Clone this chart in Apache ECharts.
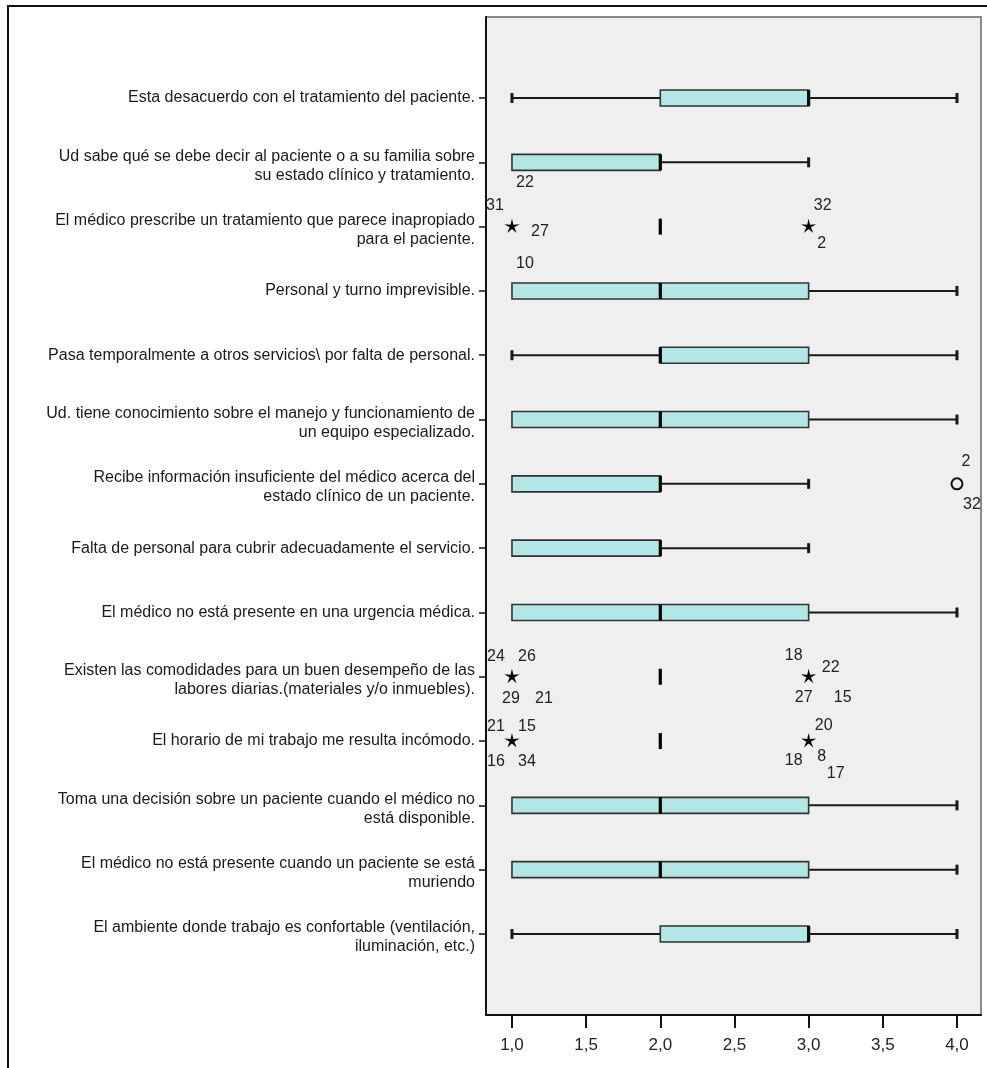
<!DOCTYPE html>
<html>
<head>
<meta charset="utf-8">
<script src="https://cdn.jsdelivr.net/npm/echarts@6/dist/echarts.min.js"></script>
<style>
  html, body { margin: 0; padding: 0; background: #ffffff; }
  #chart { width: 987px; height: 1068px; }
</style>
</head>
<body>
<div id="chart"></div>
<script>
// Items of the questionnaire (one box per item, top to bottom)
const categories = [
  'Esta desacuerdo con el tratamiento del paciente.',
  'Ud sabe qué se debe decir al paciente o a su familia sobre\nsu estado clínico y tratamiento.',
  'El médico prescribe un tratamiento que parece inapropiado\npara el paciente.',
  'Personal y turno imprevisible.',
  'Pasa temporalmente a otros servicios\\ por falta de personal.',
  'Ud. tiene conocimiento sobre el manejo y funcionamiento de\nun equipo especializado.',
  'Recibe información insuficiente del médico acerca del\nestado clínico de un paciente.',
  'Falta de personal para cubrir adecuadamente el servicio.',
  'El médico no está presente en una urgencia médica.',
  'Existen las comodidades para un buen desempeño de las\nlabores diarias.(materiales y/o inmuebles).',
  'El horario de mi trabajo me resulta incómodo.',
  'Toma una decisión sobre un paciente cuando el médico no\nestá disponible.',
  'El médico no está presente cuando un paciente se está\nmuriendo',
  'El ambiente donde trabajo es confortable (ventilación,\niluminación, etc.)'
];

// Five-number summaries: lower whisker, Q1, median, Q3, upper whisker
const whiskerLow  = [1, 1, 2, 1, 1, 1, 1, 1, 1, 2, 2, 1, 1, 1];
const quartile1   = [2, 1, 2, 1, 2, 1, 1, 1, 1, 2, 2, 1, 1, 2];
const medians     = [3, 2, 2, 2, 2, 2, 2, 2, 2, 2, 2, 2, 2, 3];
const quartile3   = [3, 2, 2, 3, 3, 3, 2, 2, 3, 2, 2, 3, 3, 3];
const whiskerHigh = [4, 3, 2, 4, 4, 4, 3, 3, 4, 2, 2, 4, 4, 4];

// Outlying cases: item index, value, kind
// ('mild' = circle, 'extreme' = star, 'covered' = case lying under its own box)
const outlierItem  = [1, 2, 2, 6, 9, 9, 10, 10];
const outlierValue = [1, 1, 3, 4, 1, 3, 1, 3];
const outlierKind  = ['covered', 'extreme', 'extreme', 'mild', 'extreme', 'extreme', 'extreme', 'extreme'];
const outlierCases = [
  ['22'],
  ['31', '27', '10'],
  ['32', '2'],
  ['2', '32'],
  ['24', '26', '29', '21'],
  ['18', '22', '27', '15'],
  ['21', '15', '16', '34'],
  ['20', '18', '8', '17']
];

// Value-axis tick labels
const xTicks = [1.0, 1.5, 2.0, 2.5, 3.0, 3.5, 4.0];

// Where each case number sits around its marker (pixels, label centre)
const caseLabelOffsets = [
  [[13, 20]],
  [[-17, -21], [28, 5], [13, 37]],
  [[14, -21], [13, 17]],
  [[9, -22], [15, 21]],
  [[-16, -20], [15, -20], [-1, 22], [32, 22]],
  [[-15, -21], [22, -9], [-5, 21], [34, 21]],
  [[-16, -14], [15, -14], [-16, 21], [15, 21]],
  [[15, -15], [-15, 20], [13, 16], [27, 33]]
];

const boxData = categories.map((_, i) =>
  [i, whiskerLow[i], quartile1[i], medians[i], quartile3[i], whiskerHigh[i]]);
const outlierData = outlierItem.map((item, k) => [item, outlierValue[k], k]);

const BOX_HALF = 8;
const CAP_HALF = 5;
const TEXT_FONT = '"Liberation Sans", Arial, sans-serif';

function renderBox(params, api) {
  const row = api.value(0);
  const lo = api.coord([api.value(1), row]);
  const q1 = api.coord([api.value(2), row]);
  const md = api.coord([api.value(3), row]);
  const q3 = api.coord([api.value(4), row]);
  const hi = api.coord([api.value(5), row]);
  const y = lo[1];
  const stroke = '#1a1a1a';
  const children = [];
  if (lo[0] < q1[0]) {
    children.push({ type: 'line', shape: { x1: lo[0], y1: y, x2: q1[0], y2: y }, style: { stroke, lineWidth: 2 } });
    children.push({ type: 'line', shape: { x1: lo[0], y1: y - CAP_HALF, x2: lo[0], y2: y + CAP_HALF }, style: { stroke, lineWidth: 3 } });
  }
  if (hi[0] > q3[0]) {
    children.push({ type: 'line', shape: { x1: q3[0], y1: y, x2: hi[0], y2: y }, style: { stroke, lineWidth: 2 } });
    children.push({ type: 'line', shape: { x1: hi[0], y1: y - CAP_HALF, x2: hi[0], y2: y + CAP_HALF }, style: { stroke, lineWidth: 3 } });
  }
  if (q3[0] > q1[0]) {
    children.push({
      type: 'rect',
      shape: { x: q1[0], y: y - BOX_HALF, width: q3[0] - q1[0], height: BOX_HALF * 2 },
      style: { fill: '#b3e6e6', stroke: '#333333', lineWidth: 1.6 }
    });
  }
  children.push({ type: 'line', shape: { x1: md[0], y1: y - BOX_HALF, x2: md[0], y2: y + BOX_HALF }, style: { stroke: '#000000', lineWidth: 3.2 } });
  return { type: 'group', children };
}

function starPoints(cx, cy, rOut, rIn) {
  const pts = [];
  for (let i = 0; i < 10; i++) {
    const r = i % 2 === 0 ? rOut : rIn;
    const a = -Math.PI / 2 + i * Math.PI / 5;
    pts.push([cx + r * Math.cos(a), cy + r * Math.sin(a)]);
  }
  return pts;
}

function renderOutlier(params, api) {
  const k = api.value(2);
  const p = api.coord([api.value(1), api.value(0)]);
  const children = [];
  if (outlierKind[k] === 'extreme') {
    children.push({ type: 'polygon', shape: { points: starPoints(p[0], p[1], 8, 2.4) }, style: { fill: '#000000' } });
  } else if (outlierKind[k] === 'mild') {
    children.push({ type: 'circle', shape: { cx: p[0], cy: p[1], r: 5.5 }, style: { fill: 'none', stroke: '#111111', lineWidth: 2 } });
  }
  outlierCases[k].forEach((id, j) => {
    const off = caseLabelOffsets[k][j];
    children.push({
      type: 'text',
      style: {
        x: p[0] + off[0], y: p[1] + off[1], text: id,
        align: 'center', verticalAlign: 'middle',
        fontSize: 16, fontFamily: TEXT_FONT, fill: '#222222'
      }
    });
  });
  return { type: 'group', children };
}

const chart = echarts.init(document.getElementById('chart'), null, { renderer: 'canvas' });

chart.setOption({
  backgroundColor: '#ffffff',
  animation: false,
  graphic: [{
    type: 'rect',
    shape: { x: 8, y: 6, width: 1200, height: 1200 },
    style: { fill: 'none', stroke: '#111111', lineWidth: 2 },
    silent: true
  }],
  grid: {
    left: 486, right: 6, top: 17, bottom: 53,
    show: true,
    backgroundColor: '#efefef',
    borderColor: '#8a8a8a',
    borderWidth: 2
  },
  xAxis: {
    type: 'value',
    min: 0.825,
    max: 4.162,
    axisLine: { show: true, onZero: false, lineStyle: { color: '#111111', width: 2 } },
    axisTick: { show: true, customValues: xTicks, length: 13, lineStyle: { color: '#111111', width: 2 } },
    axisLabel: {
      customValues: xTicks,
      formatter: v => v.toFixed(1).replace('.', ','),
      fontSize: 17, fontFamily: TEXT_FONT, color: '#222222', margin: 22
    },
    splitLine: { show: false }
  },
  yAxis: {
    type: 'value',
    inverse: true,
    min: -1.26,
    max: 14.26,
    axisLine: { show: true, onZero: false, lineStyle: { color: '#111111', width: 2 } },
    axisTick: { show: true, customValues: categories.map((_, i) => i), length: 7, lineStyle: { color: '#111111', width: 1.5 } },
    axisLabel: {
      customValues: categories.map((_, i) => i),
      formatter: v => {
        const t = categories[Math.round(v)];
        if (t === undefined) return '';
        const lines = t.split('\n');
        if (lines.length === 1) return '{s|' + t + '}';
        return '{a|' + lines[0] + '}\n{b|' + lines[1] + '}';
      },
      margin: 11,
      align: 'right',
      rich: {
        s: { fontSize: 16, fontFamily: TEXT_FONT, color: '#1a1a1a', lineHeight: 19 },
        a: { fontSize: 16, fontFamily: TEXT_FONT, color: '#1a1a1a', lineHeight: 26 },
        b: { fontSize: 16, fontFamily: TEXT_FONT, color: '#1a1a1a', lineHeight: 12 }
      }
    },
    splitLine: { show: false }
  },
  series: [
    {
      type: 'custom',
      name: 'casos',
      renderItem: renderOutlier,
      encode: { x: 1, y: 0 },
      data: outlierData,
      z: 2
    },
    {
      type: 'custom',
      name: 'cajas',
      renderItem: renderBox,
      encode: { x: [1, 2, 3, 4, 5], y: 0 },
      data: boxData,
      z: 3
    }
  ]
});
</script>
</body>
</html>
